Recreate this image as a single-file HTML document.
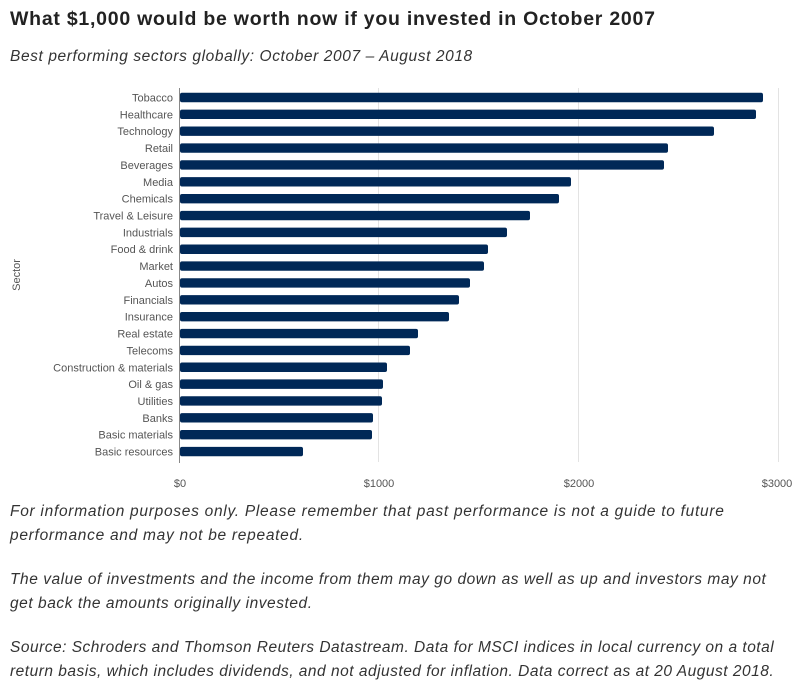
<!DOCTYPE html>
<html><head><meta charset="utf-8"><style>
body{margin:0;width:808px;height:693px;background:#fff;overflow:hidden;font-family:"Liberation Sans",sans-serif}
.t{position:absolute;left:10px;top:8px;font-size:19.5px;font-weight:bold;color:#222;letter-spacing:0.75px;white-space:nowrap}
.s{position:absolute;left:10px;top:48px;font-size:15.5px;font-style:italic;color:#333;letter-spacing:0.6px;white-space:nowrap}
.f{position:absolute;left:10px;font-size:15.5px;font-style:italic;color:#333;line-height:24px;white-space:nowrap;letter-spacing:0.72px}
</style></head><body>
<div class="t">What $1,000 would be worth now if you invested in October 2007</div>
<div class="s">Best performing sectors globally: October 2007 – August 2018</div>
<svg width="808" height="500" style="position:absolute;left:0;top:0" font-family="Liberation Sans, sans-serif">
<g stroke="#e3e3e3" stroke-width="1">
<line x1="378.5" y1="88" x2="378.5" y2="462"/><line x1="578.5" y1="88" x2="578.5" y2="462"/><line x1="778.5" y1="88" x2="778.5" y2="462"/>
</g>
<line x1="179.5" y1="88" x2="179.5" y2="463" stroke="#888"/>
<g fill="#002857" id="bars"></g>
<g font-size="11" fill="#555" text-anchor="end" id="labs"></g>
<g font-size="11" fill="#555" text-anchor="middle">
<text x="180" y="487">$0</text><text x="379" y="487">$1000</text><text x="579" y="487">$2000</text><text x="777" y="487">$3000</text>
</g>
<text transform="translate(20,275) rotate(-90)" font-size="11" fill="#555" text-anchor="middle">Sector</text>
</svg>
<div class="f" style="top:500px">For information purposes only. Please remember that past performance is not a guide to future<br>performance and may not be repeated.</div>
<div class="f" style="top:568px;letter-spacing:0.55px">The value of investments and the income from them may go down as well as up and investors may not<br>get back the amounts originally invested.</div>
<div class="f" style="top:636px;letter-spacing:0.5px">Source: Schroders and Thomson Reuters Datastream. Data for MSCI indices in local currency on a total<br>return basis, which includes dividends, and not adjusted for inflation. Data correct as at 20 August 2018.</div>
<script>
var d=[["Tobacco",763],["Healthcare",756],["Technology",714],["Retail",668],["Beverages",664],["Media",571],["Chemicals",559],["Travel & Leisure",530],["Industrials",507],["Food & drink",488],["Market",484],["Autos",470],["Financials",459],["Insurance",449],["Real estate",418],["Telecoms",410],["Construction & materials",387],["Oil & gas",383],["Utilities",382],["Banks",373],["Basic materials",372],["Basic resources",303]];
var b="",l="";
d.forEach(function(r,i){var c=97.5+i*16.86;
b+='<rect x="180" y="'+(c-4.7)+'" width="'+(r[1]-180)+'" height="9.4" rx="2"/>';
l+='<text x="173" y="'+(c+4)+'">'+r[0].replace("&","&amp;")+'</text>';});
document.getElementById("bars").innerHTML=b;document.getElementById("labs").innerHTML=l;
</script>
</body></html>
